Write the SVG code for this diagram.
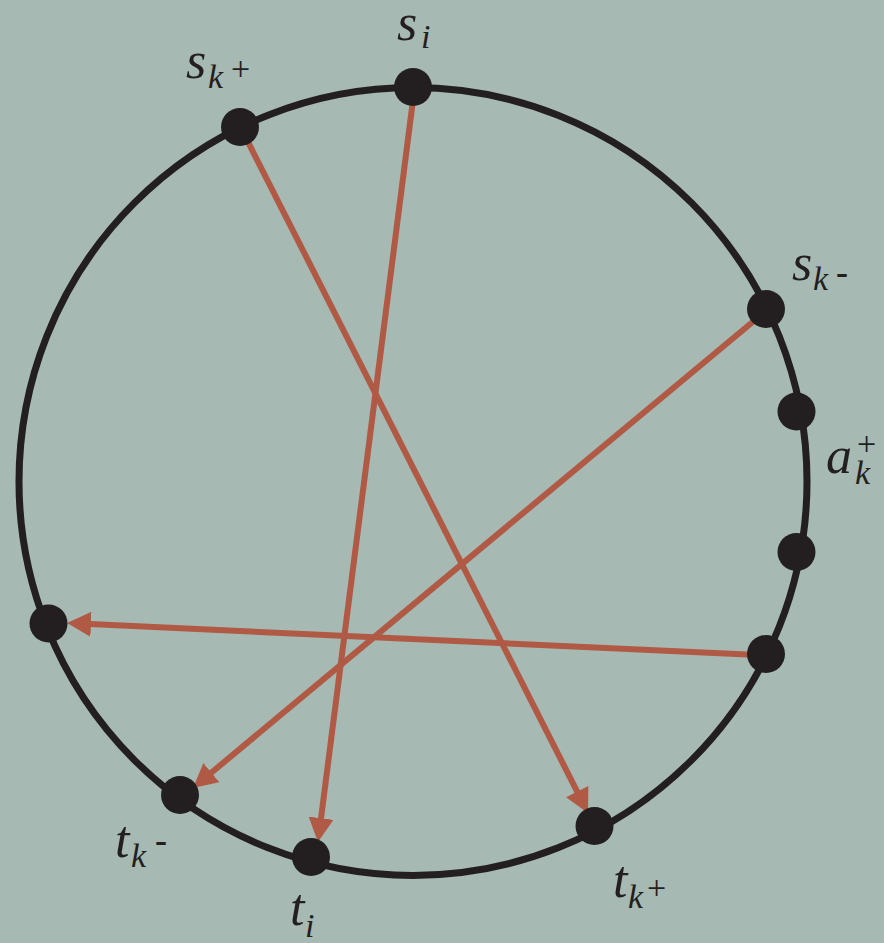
<svg xmlns="http://www.w3.org/2000/svg" width="884" height="943" viewBox="0 0 884 943">
<style>
.ring{fill:none;stroke:#231f20;stroke-width:7}
.dot{fill:#231f20}
.edge{stroke:#b05a45;stroke-width:6;fill:none;marker-end:url(#ah)}
.lab{font-family:'Liberation Serif',serif;font-style:italic;font-size:52px;fill:#231f20}
.sub{font-size:34px}
.sup{font-size:34px;font-style:normal}
.dash{font-size:36px;font-style:normal;font-weight:bold}
</style>
<defs>
<marker id="ah" markerUnits="userSpaceOnUse" markerWidth="24" markerHeight="25" refX="12" refY="12.5" orient="auto" viewBox="0 0 24 25">
<path d="M0,0 L24,12.5 L0,25 z" fill="#b05a45"/>
</marker>
</defs>
<rect width="884" height="943" fill="#a6b9b2"/>
<circle class="ring" cx="413" cy="481.5" r="394"/>
<g id="connectors">
<line class="edge" x1="413" y1="100" x2="319.5" y2="830.1"/>
<line class="edge" x1="247" y1="140" x2="582.6" y2="802.3"/>
<line class="edge" x1="755" y1="320" x2="202.2" y2="780.3"/>
<line class="edge" x1="758" y1="655" x2="79" y2="623.6"/>
</g>
<g id="s_i"><circle class="dot" cx="413" cy="87" r="19"/>
<text class="lab" font-family="Liberation Serif" x="397" y="40">s<tspan class="sub" x="421" y="48">i</tspan></text></g>
<g id="s_kplus"><circle class="dot" cx="240" cy="127" r="19"/>
<text class="lab" font-family="Liberation Serif" x="186" y="78">s<tspan class="sub" x="208" y="88">k</tspan><tspan class="sup" x="231" y="80">+</tspan></text></g>
<g id="s_kminus"><circle class="dot" cx="766" cy="309" r="19"/>
<text class="lab" font-family="Liberation Serif" x="792" y="280">s<tspan class="sub" x="813" y="290">k</tspan><tspan class="dash" x="836" y="284">-</tspan></text></g>
<g id="a_k1"><circle class="dot" cx="796.5" cy="411.5" r="19"/></g>
<g id="a_k2"><circle class="dot" cx="796.5" cy="552" r="19"/>
<text class="lab" font-family="Liberation Serif" x="826" y="473">a<tspan class="sub" x="855" y="484">k</tspan><tspan class="sup" x="857" y="455">+</tspan></text></g>
<g id="r_src"><circle class="dot" cx="766" cy="654" r="19"/></g>
<g id="l_dst"><circle class="dot" cx="48.5" cy="623.5" r="19"/></g>
<g id="t_kminus"><circle class="dot" cx="180" cy="795" r="19"/>
<text class="lab" font-family="Liberation Serif" x="115" y="857">t<tspan class="sub" x="131" y="867">k</tspan><tspan class="dash" x="155" y="852">-</tspan></text></g>
<g id="t_i"><circle class="dot" cx="311" cy="857" r="19"/>
<text class="lab" font-family="Liberation Serif" x="290" y="925">t<tspan class="sub" x="305" y="937">i</tspan></text></g>
<g id="t_kplus"><circle class="dot" cx="594.5" cy="826" r="19"/>
<text class="lab" font-family="Liberation Serif" x="613" y="897">t<tspan class="sub" x="628" y="908">k</tspan><tspan class="sup" x="647" y="899">+</tspan></text></g>
</svg>
